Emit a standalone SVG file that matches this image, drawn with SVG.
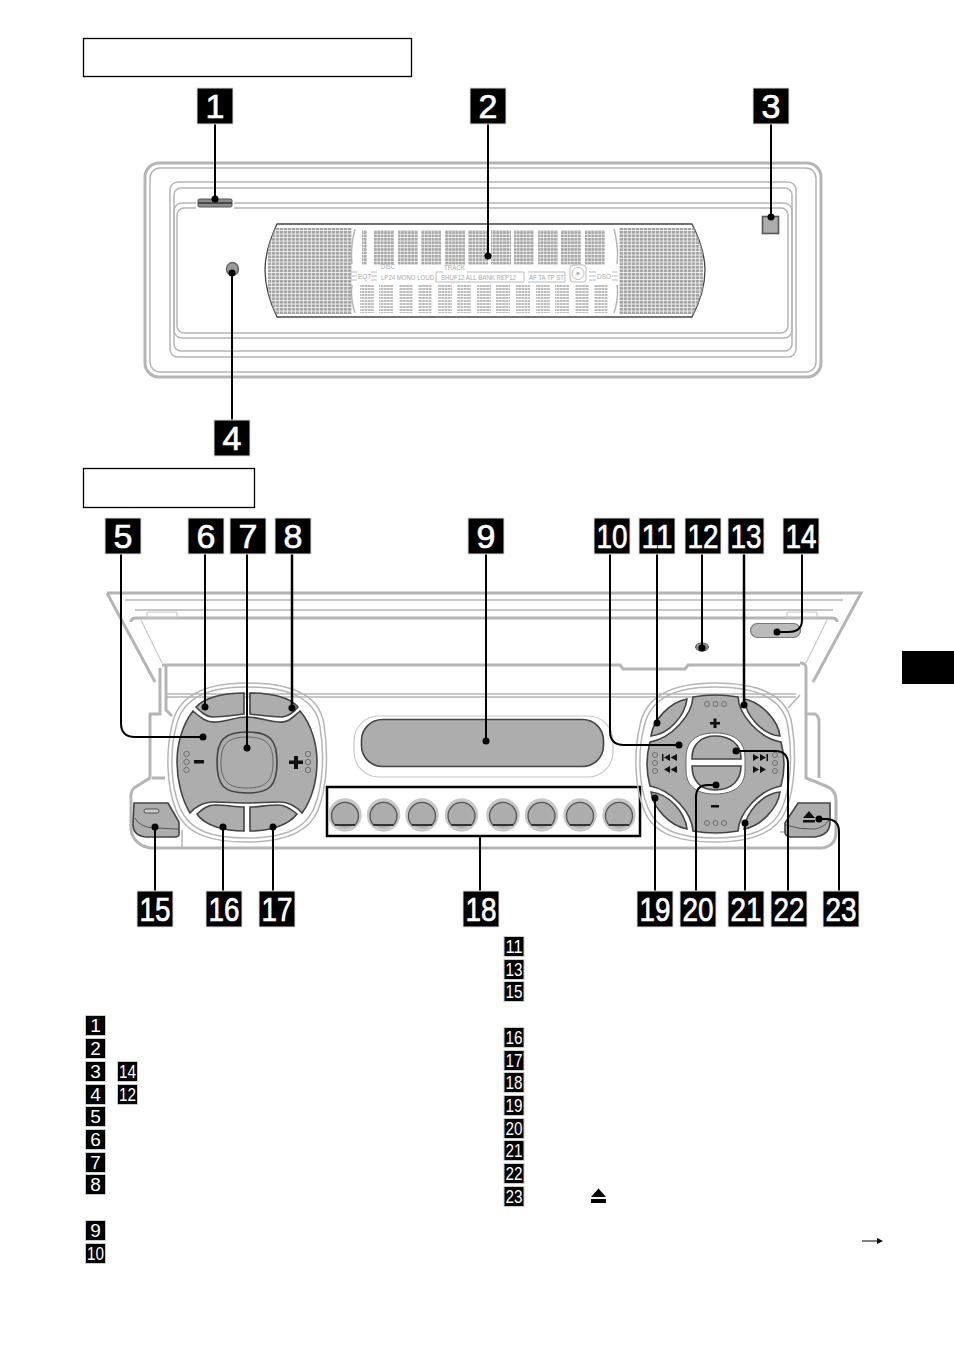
<svg xmlns="http://www.w3.org/2000/svg" width="954" height="1352" viewBox="0 0 954 1352">
<style>
text{font-family:"Liberation Sans",Arial,sans-serif}
.big rect{fill:#000;stroke:#ddd;stroke-width:1}
.big text{fill:#fff;stroke:#fff;stroke-width:.7;font-size:34px;text-anchor:middle}
.sm rect{fill:#000;stroke:#ccc;stroke-width:1}
.sm text{fill:#fff;font-size:19px;text-anchor:middle}
.hdr{fill:#fff;stroke:#000;stroke-width:1.3}
.g1{fill:none;stroke:#b5b5b5;stroke-width:1.5}
.g2{fill:none;stroke:#b5b5b5;stroke-width:3}
.g3{fill:none;stroke:#c8c8c8;stroke-width:1.2}
.btn{fill:#adadad;stroke:#444;stroke-width:1.6}
.lcd{fill:#a8a8a8;font-size:7px}
.ld{fill:none;stroke:#bbb;stroke-width:1}
.con path{fill:none;stroke:#000;stroke-width:2}
.con circle{fill:#000}
.sym{fill:#111}
.hole{fill:none;stroke:#666;stroke-width:.9}
</style>
<defs>
<pattern id="dots" width="4" height="3.500" patternUnits="userSpaceOnUse"><rect width="3.400" height="2.800" fill="#a6a6a6"/></pattern>
<pattern id="dots2" width="3.400" height="3.400" patternUnits="userSpaceOnUse"><rect width="2.900" height="2.700" fill="#a8a8a8"/></pattern>
<pattern id="dots3" width="3.200" height="3" patternUnits="userSpaceOnUse"><rect width="2.700" height="2" fill="#bdbdbd"/></pattern>
<clipPath id="lcdclip"><path d="M277 224H692Q705 250 705 270Q705 292 692 317H277Q265 292 265 270Q265 250 277 224Z"/></clipPath>
</defs>
<rect width="954" height="1352" fill="#fff"/>
<rect class="hdr" x="83.500" y="38.500" width="328" height="38"/>
<rect class="hdr" x="83.500" y="468.500" width="171" height="39"/>
<rect x="902" y="651" width="52" height="33" fill="#000"/>

<g id="faceplate">
<rect x="145" y="163" width="676" height="214" rx="14" fill="none" stroke="#b5b5b5" stroke-width="3"/>
<rect x="150" y="168" width="666" height="204" rx="10" class="g1"/>
<rect x="170" y="182" width="626" height="175" rx="8" class="g1"/>
<rect x="174" y="188" width="618" height="163" rx="7" class="g1"/>
<rect x="174" y="203" width="618" height="135" rx="8" class="g1"/>
<rect x="177" y="208" width="611" height="125" rx="7" class="g1"/>
<rect x="196" y="197" width="38" height="12" fill="#fff"/>
</g>
<g id="slot"><rect x="198" y="199" width="34" height="8" rx="1.500" fill="#8c8c8c" stroke="#555"/><path d="M198 203H232" stroke="#333" stroke-width="1.500"/></g>
<g id="square"><rect x="762.500" y="216.500" width="16" height="17" fill="#adadad" stroke="#555" stroke-width="1.600"/></g>
<g id="sensor"><ellipse cx="232.500" cy="269" rx="6" ry="6.500" fill="#999" stroke="#666" stroke-width="1.500"/></g>

<g id="display">
<path d="M277 224H692Q705 250 705 270Q705 292 692 317H277Q265 292 265 270Q265 250 277 224Z" fill="#fff" stroke="#444" stroke-width="1.300"/>
<g clip-path="url(#lcdclip)">
<rect x="268" y="228" width="84" height="86" fill="url(#dots)"/>
<rect x="619" y="228" width="84" height="86" fill="url(#dots)"/>
</g>
<path d="M355 229Q350 248 352 264M355 313Q350 298 352 285M614 229Q619 248 617 264M614 313Q619 298 617 285" class="g1"/>
<rect x="362" y="230" width="5" height="35" fill="url(#dots2)"/>
<g fill="url(#dots2)"><rect x="374" y="230" width="20" height="35"/><rect x="398" y="230" width="20" height="35"/><rect x="421" y="230" width="20" height="35"/><rect x="445" y="230" width="20" height="35"/><rect x="468" y="230" width="20" height="35"/><rect x="491" y="230" width="20" height="35"/><rect x="514" y="230" width="20" height="35"/><rect x="538" y="230" width="20" height="35"/><rect x="561" y="230" width="20" height="35"/><rect x="585" y="230" width="20" height="35"/></g>
<g fill="url(#dots3)"><rect x="360" y="285" width="14" height="28"/><rect x="379" y="285" width="14" height="28"/><rect x="399" y="285" width="14" height="28"/><rect x="418" y="285" width="14" height="28"/><rect x="438" y="285" width="14" height="28"/><rect x="457" y="285" width="14" height="28"/><rect x="477" y="285" width="14" height="28"/><rect x="496" y="285" width="14" height="28"/><rect x="516" y="285" width="14" height="28"/><rect x="536" y="285" width="14" height="28"/><rect x="555" y="285" width="14" height="28"/><rect x="575" y="285" width="14" height="28"/><rect x="594" y="285" width="14" height="28"/></g>
<text class="lcd" x="358" y="279" textLength="13" lengthAdjust="spacingAndGlyphs">EQ7</text>
<text class="lcd" x="381" y="269" textLength="14" lengthAdjust="spacingAndGlyphs">DISC</text>
<text class="lcd" x="381" y="280" textLength="53" lengthAdjust="spacingAndGlyphs">LP24 MONO LOUD</text>
<text class="lcd" x="444" y="270" textLength="21" lengthAdjust="spacingAndGlyphs">TRACK</text>
<path d="M443 272H436V282H524V272H467" class="ld"/>
<text class="lcd" x="441" y="280" textLength="75" lengthAdjust="spacingAndGlyphs">SHUF12 ALL BANK REP12</text>
<path d="M528 272H565V282H528" class="ld"/>
<text class="lcd" x="529" y="280" textLength="35" lengthAdjust="spacingAndGlyphs">AF TA TP ST</text>
<rect x="570" y="265" width="16" height="17" rx="3" class="ld"/><circle cx="578" cy="273.500" r="6" class="ld"/><circle cx="578" cy="273.500" r="1.800" fill="#bbb"/>
<text class="lcd" x="597" y="279" textLength="14" lengthAdjust="spacingAndGlyphs">DSO</text>
<path d="M350 272H357M350 276H357M350 280H357M371 272H377M371 276H377M371 280H377M589 272H596M589 276H596M589 280H596M612 272H618M612 276H618M612 280H618" class="ld"/>
</g>

<g id="body">
<path d="M107 593H861L813 682M107 593L155 682" class="g2"/>
<path d="M125 600H843M135 610H833" class="g1" stroke-width="2"/>
<path d="M131 622Q131 618 136 618H832Q837 618 837 622" class="g2"/>
<path d="M140 618L162 663M828 618L806 663" class="g3"/>
<rect x="147" y="612" width="30" height="6" rx="1" class="g3" fill="#fff"/>
<rect x="787" y="612" width="30" height="6" rx="1" class="g3" fill="#fff"/>
<path d="M162 665H620L623 669H685L688 665H800" class="g2"/>
<path d="M165 694H796M165 697H796" class="g1"/>
<path d="M160 668V714H150V778L134 788Q130 792 131 800V830Q132 840 143 846L150 848H822Q836 846 836 832V800Q836 790 826 786L806 778V668Q806 663 800 663M166 666V710L172 716M165 778H152" class="g2"/>
<path d="M806 714H815Q819 716 819 722V778" class="g2" stroke-width="2"/>
<path d="M800 695L788 708" class="g1"/>
<path d="M182 830V848M780 832H795" class="g1"/>
</g>

<g id="left-control">
<path d="M247 683C290 683 320 695 324 725C328 750 328 785 318 810C308 835 280 842 247 842C212 842 186 835 176 810C166 785 166 750 172 725C178 695 205 683 247 683Z" class="g1" fill="#fff"/>
<path d="M247 687C288 687 316 698 320 727C324 750 324 785 314 808C304 832 278 838 247 838C214 838 190 832 180 808C170 785 170 750 176 727C182 698 207 687 247 687Z" class="g1" fill="#fff"/>
<path class="btn" d="M193 711C201 718 207 723 216 722C228 721 236 717 247 717C258 717 267 721 279 722C288 723 292 718 300 711C312 725 317 745 317 762C317 780 312 800 302 813C295 805 288 802 280 802C268 802 258 803 247 803C236 803 225 802 213 802C204 802 197 805 190 813C182 800 177 780 177 762C177 745 182 725 193 711Z"/>
<path class="btn" d="M196 707C205 697 225 693 244 693V714C230 716 222 717 212 717C205 716 201 712 196 707Z"/>
<path class="btn" d="M298 707C290 697 270 693 250 693V714C264 716 272 717 282 717C290 716 294 712 298 707Z"/>
<path class="btn" d="M197 814C204 808 208 805 215 805C225 805 235 807 244 807V831C225 831 205 826 197 814Z"/>
<path class="btn" d="M297 814C290 808 284 805 278 805C268 805 258 807 250 807V831C268 831 288 826 297 814Z"/>
<path class="btn" d="M247 732C270 732 277 740 277 762C277 786 270 793 247 793C224 793 217 786 217 762C217 740 224 732 247 732Z"/>
<path d="M247 737C266 737 273 744 273 762C273 781 266 788 247 788C228 788 221 781 221 762C221 744 228 737 247 737Z" fill="none" stroke="#666" stroke-width="1"/>
<g class="hole"><circle cx="186.500" cy="754" r="2.700"/><circle cx="186.500" cy="762" r="2.700"/><circle cx="186.500" cy="770" r="2.700"/><circle cx="308" cy="754" r="2.700"/><circle cx="308" cy="762" r="2.700"/><circle cx="308" cy="770" r="2.700"/></g>
<rect class="sym" x="194" y="760" width="10" height="3.500"/>
<path class="sym" d="M294 756h4v4.500h5v3.500h-5v5h-4v-5h-5v-3.500h5z"/>
</g>

<g id="display-window">
<rect x="354" y="716" width="259" height="61" rx="25" class="g3"/>
<rect x="361.500" y="719.500" width="242" height="47" rx="21" class="btn"/>
</g>

<g id="presets">
<rect x="327" y="787" width="313" height="49" fill="none" stroke="#000" stroke-width="2.500"/>
<g fill="#adadad" stroke="#c8c8c8" stroke-width="3.500">
<circle cx="345" cy="815" r="15"/><circle cx="383.500" cy="815" r="15"/><circle cx="422" cy="815" r="15"/><circle cx="461.500" cy="815" r="15"/><circle cx="503" cy="815" r="15"/><circle cx="541.500" cy="815" r="15"/><circle cx="580" cy="815" r="15"/><circle cx="619" cy="815" r="15"/>
</g>
<g fill="#adadad" stroke="#555" stroke-width="1.300">
<path d="M335 825A13.500 13.500 0 1 1 355 825Z"/><path d="M373.500 825A13.500 13.500 0 1 1 393.500 825Z"/><path d="M412 825A13.500 13.500 0 1 1 432 825Z"/><path d="M451.500 825A13.500 13.500 0 1 1 471.500 825Z"/><path d="M493 825A13.500 13.500 0 1 1 513 825Z"/><path d="M531.500 825A13.500 13.500 0 1 1 551.500 825Z"/><path d="M570 825A13.500 13.500 0 1 1 590 825Z"/><path d="M609 825A13.500 13.500 0 1 1 629 825Z"/>
</g>
<path d="M335 825H355M373.500 825H393.500M412 825H432M451.500 825H471.500M493 825H513M531.500 825H551.500M570 825H590M609 825H629" stroke="#333" stroke-width="2"/>
</g>

<g id="right-control">
<path d="M715 683C758 683 788 695 792 725C796 750 796 785 786 810C776 835 748 842 715 842C680 842 654 835 644 810C634 785 634 750 640 725C646 695 673 683 715 683Z" class="g1" fill="#fff"/>
<path d="M715 687C756 687 784 698 788 727C792 750 792 785 782 808C772 832 746 838 715 838C682 838 658 832 648 808C638 785 638 750 644 727C650 698 675 687 715 687Z" class="g1" fill="#fff"/>
<path class="btn" d="M693 697Q715 693 738 697C739 715 759 738 781 742Q787 764 781 786C759 790 739 813 738 831Q715 835 693 831C692 813 672 790 650 786Q644 764 650 742C672 738 692 715 693 697Z"/>
<path class="btn" d="M651 736C653 720 670 702 687 699C685 715 670 734 651 736Z"/>
<path class="btn" d="M780 736C778 720 761 702 744 699C746 715 761 734 780 736Z"/>
<path class="btn" d="M651 792C653 808 670 826 687 829C685 813 670 794 651 792Z"/>
<path class="btn" d="M780 792C778 808 761 826 744 829C746 813 761 794 780 792Z"/>
<path d="M715 733C735 733 745 742 745 758V770C745 785 735 794 715 794C695 794 686 785 686 770V758C686 742 695 733 715 733Z" fill="#fff" stroke="#666" stroke-width="1"/>
<path class="btn" d="M692 758C692 744 702 736 715 736C730 736 741 744 741 758V759H692Z"/>
<path class="btn" d="M692 766H741C741 780 732 790 715 790C700 790 692 780 692 766Z"/>
<g class="hole"><circle cx="707" cy="704" r="2.500"/><circle cx="715.500" cy="704" r="2.500"/><circle cx="724" cy="704" r="2.500"/><circle cx="707" cy="823" r="2.500"/><circle cx="715.500" cy="823" r="2.500"/><circle cx="724" cy="823" r="2.500"/><circle cx="655" cy="755" r="2.500"/><circle cx="655" cy="763" r="2.500"/><circle cx="655" cy="771" r="2.500"/><circle cx="775" cy="755" r="2.500"/><circle cx="775" cy="763" r="2.500"/><circle cx="775" cy="771" r="2.500"/></g>
<path class="sym" d="M713.500 718.500h3v3.500h3.500v2.500h-3.500v3.500h-3v-3.500h-3.500v-2.500h3.500zM711 805h8v2.500h-8z"/>
<path class="sym" d="M662 754h1.500v7h-1.500zM664 757.500L670 754V761ZM670.500 757.500L677 754V761ZM664 769.500L670 766V773ZM670.500 769.500L677 766V773ZM753 754L759 757.500L753 761ZM760 754L766 757.500L760 761ZM766.500 754H768V761H766.500ZM753 766L759 769.500L753 773ZM760 766L766 769.500L760 773Z"/>
</g>

<g id="rear-button"><rect x="750.500" y="623.500" width="50" height="14" rx="7" fill="#bbb" stroke="#777" stroke-width="1.200"/></g>
<g id="reset"><ellipse cx="702" cy="647" rx="6.500" ry="4" fill="#888" stroke="#555"/></g>

<g id="off-button"><path class="btn" stroke-width="1.500" d="M134 803H168L179 822V834Q179 837 175 837H146Q133 836 133 824Z" fill="#9a9a9a"/><path d="M135 818Q140 828 156 828L178 829" fill="none" stroke="#555"/><rect x="144" y="809" width="15" height="4" rx="2" fill="#ccc" stroke="#444" stroke-width=".9"/></g>
<g id="eject-button"><path class="btn" stroke-width="1.500" d="M798 803H830V822Q830 835 815 837H790Q785 836 785 832V823Z" fill="#9a9a9a"/><path d="M786 825Q800 830 815 829Q826 827 830 818" fill="none" stroke="#555"/><path class="sym" d="M809 811L815 818H803ZM803 820H815V822.500H803Z"/></g>

<g id="connectors" class="con">
<path d="M215 124V199"/><path d="M488 124V256"/><path d="M771 124V217"/><path d="M232 420V273"/>
<path d="M121 554V723Q121 737 135 737H203"/><path d="M205 554V707"/><path d="M247 554V748"/><path d="M292 554V708" style="stroke-width:2.500px"/><path d="M486 554V741"/>
<path d="M610 554V731Q610 745 624 745H679"/><path d="M657 554V723"/><path d="M702 554V648"/><path d="M744 554V705" style="stroke-width:2.500px"/><path d="M802 554V620Q802 632 788 632H777"/>
<path d="M155 891V827"/><path d="M223 891V827"/><path d="M273 891V827"/><path d="M480 891V836"/><path d="M655 891V798"/>
<path d="M696 891V797Q696 785 708 785H716"/><path d="M745 891V823"/><path d="M788 891V764Q788 751 775 751H736"/><path d="M839 891V832Q839 819 826 819H819"/>
<circle cx="215" cy="199" r="3.500"/><circle cx="488" cy="256" r="3.500"/><circle cx="771" cy="217" r="3.500"/><circle cx="232" cy="273" r="3.500"/><circle cx="203" cy="737" r="3.500"/><circle cx="205" cy="707" r="3.500"/><circle cx="247" cy="748" r="3.500"/><circle cx="292" cy="708" r="3.500"/><circle cx="486" cy="741" r="3.500"/><circle cx="679" cy="745" r="3.500"/><circle cx="657" cy="723" r="3.500"/><circle cx="702" cy="648" r="3.500"/><circle cx="744" cy="705" r="3.500"/><circle cx="777" cy="632" r="3.500"/><circle cx="155" cy="827" r="3.500"/><circle cx="223" cy="827" r="3.500"/><circle cx="273" cy="827" r="3.500"/><circle cx="655" cy="798" r="3.500"/><circle cx="716" cy="785" r="3.500"/><circle cx="745" cy="823" r="3.500"/><circle cx="736" cy="751" r="3.500"/><circle cx="819" cy="819" r="3.500"/>
</g>

<g id="callouts" class="big">
<g id="c1"><rect x="197" y="88" width="36" height="36"/><text x="215" y="118">1</text></g>
<g id="c2"><rect x="470" y="88" width="36" height="36"/><text x="488" y="118">2</text></g>
<g id="c3"><rect x="753" y="88" width="36" height="36"/><text x="771" y="118">3</text></g>
<g id="c4"><rect x="214" y="420" width="36" height="36"/><text x="232" y="450">4</text></g>
<g id="c5"><rect x="105" y="518" width="36" height="36"/><text x="123" y="548">5</text></g>
<g id="c6"><rect x="188" y="518" width="36" height="36"/><text x="206" y="548">6</text></g>
<g id="c7"><rect x="230" y="518" width="36" height="36"/><text x="248" y="548">7</text></g>
<g id="c8"><rect x="275" y="518" width="36" height="36"/><text x="293" y="548">8</text></g>
<g id="c9"><rect x="468" y="518" width="36" height="36"/><text x="486" y="548">9</text></g>
<g id="c10"><rect x="594" y="518" width="36" height="36"/><text x="612" y="548" textLength="31" lengthAdjust="spacingAndGlyphs">10</text></g>
<g id="c11"><rect x="639" y="518" width="36" height="36"/><text x="657" y="548" textLength="31" lengthAdjust="spacingAndGlyphs">11</text></g>
<g id="c12"><rect x="685" y="518" width="36" height="36"/><text x="703" y="548" textLength="31" lengthAdjust="spacingAndGlyphs">12</text></g>
<g id="c13"><rect x="728" y="518" width="36" height="36"/><text x="746" y="548" textLength="31" lengthAdjust="spacingAndGlyphs">13</text></g>
<g id="c14"><rect x="783" y="518" width="36" height="36"/><text x="801" y="548" textLength="31" lengthAdjust="spacingAndGlyphs">14</text></g>
<g id="c15"><rect x="137" y="891" width="36" height="36"/><text x="155" y="921" textLength="31" lengthAdjust="spacingAndGlyphs">15</text></g>
<g id="c16"><rect x="206" y="891" width="36" height="36"/><text x="224" y="921" textLength="31" lengthAdjust="spacingAndGlyphs">16</text></g>
<g id="c17"><rect x="259" y="891" width="36" height="36"/><text x="277" y="921" textLength="31" lengthAdjust="spacingAndGlyphs">17</text></g>
<g id="c18"><rect x="463" y="891" width="36" height="36"/><text x="481" y="921" textLength="31" lengthAdjust="spacingAndGlyphs">18</text></g>
<g id="c19"><rect x="637" y="891" width="36" height="36"/><text x="655" y="921" textLength="31" lengthAdjust="spacingAndGlyphs">19</text></g>
<g id="c20"><rect x="680" y="891" width="36" height="36"/><text x="698" y="921" textLength="31" lengthAdjust="spacingAndGlyphs">20</text></g>
<g id="c21"><rect x="728" y="891" width="36" height="36"/><text x="746" y="921" textLength="31" lengthAdjust="spacingAndGlyphs">21</text></g>
<g id="c22"><rect x="771" y="891" width="36" height="36"/><text x="789" y="921" textLength="31" lengthAdjust="spacingAndGlyphs">22</text></g>
<g id="c23"><rect x="823" y="891" width="36" height="36"/><text x="841" y="921" textLength="31" lengthAdjust="spacingAndGlyphs">23</text></g>
</g>

<g id="legend" class="sm">
<g><rect x="85.500" y="1015.500" width="20" height="20"/><text x="95.500" y="1032">1</text></g>
<g><rect x="85.500" y="1038.500" width="20" height="20"/><text x="95.500" y="1055">2</text></g>
<g><rect x="85.500" y="1061.500" width="20" height="20"/><text x="95.500" y="1078">3</text></g>
<g><rect x="117.500" y="1061.500" width="20" height="20"/><text x="127.500" y="1078" textLength="17" lengthAdjust="spacingAndGlyphs">14</text></g>
<g><rect x="85.500" y="1084.500" width="20" height="20"/><text x="95.500" y="1101">4</text></g>
<g><rect x="117.500" y="1084.500" width="20" height="20"/><text x="127.500" y="1101" textLength="17" lengthAdjust="spacingAndGlyphs">12</text></g>
<g><rect x="85.500" y="1106.500" width="20" height="20"/><text x="95.500" y="1123">5</text></g>
<g><rect x="85.500" y="1129.500" width="20" height="20"/><text x="95.500" y="1146">6</text></g>
<g><rect x="85.500" y="1152.500" width="20" height="20"/><text x="95.500" y="1169">7</text></g>
<g><rect x="85.500" y="1174.500" width="20" height="20"/><text x="95.500" y="1191">8</text></g>
<g><rect x="85.500" y="1220.500" width="20" height="20"/><text x="95.500" y="1237">9</text></g>
<g><rect x="85.500" y="1243.500" width="20" height="20"/><text x="95.500" y="1260" textLength="17" lengthAdjust="spacingAndGlyphs">10</text></g>
<g><rect x="504" y="936.500" width="20" height="20"/><text x="514" y="953" textLength="17" lengthAdjust="spacingAndGlyphs">11</text></g>
<g><rect x="504" y="959.500" width="20" height="20"/><text x="514" y="976" textLength="17" lengthAdjust="spacingAndGlyphs">13</text></g>
<g><rect x="504" y="981.500" width="20" height="20"/><text x="514" y="998" textLength="17" lengthAdjust="spacingAndGlyphs">15</text></g>
<g><rect x="504" y="1027.500" width="20" height="20"/><text x="514" y="1044" textLength="17" lengthAdjust="spacingAndGlyphs">16</text></g>
<g><rect x="504" y="1050.500" width="20" height="20"/><text x="514" y="1067" textLength="17" lengthAdjust="spacingAndGlyphs">17</text></g>
<g><rect x="504" y="1072.500" width="20" height="20"/><text x="514" y="1089" textLength="17" lengthAdjust="spacingAndGlyphs">18</text></g>
<g><rect x="504" y="1095.500" width="20" height="20"/><text x="514" y="1112" textLength="17" lengthAdjust="spacingAndGlyphs">19</text></g>
<g><rect x="504" y="1118.500" width="20" height="20"/><text x="514" y="1135" textLength="17" lengthAdjust="spacingAndGlyphs">20</text></g>
<g><rect x="504" y="1140.500" width="20" height="20"/><text x="514" y="1157" textLength="17" lengthAdjust="spacingAndGlyphs">21</text></g>
<g><rect x="504" y="1163.500" width="20" height="20"/><text x="514" y="1180" textLength="17" lengthAdjust="spacingAndGlyphs">22</text></g>
<g><rect x="504" y="1186.500" width="20" height="20"/><text x="514" y="1203" textLength="17" lengthAdjust="spacingAndGlyphs">23</text></g>
</g>
<g id="eject-symbol"><path d="M598.500 1188.500L606 1197H591ZM591 1199H606V1203H591Z" fill="#000"/></g>
<g id="next-arrow"><path d="M862 1241H878" stroke="#000" stroke-width="1"/><path d="M877 1238L883 1241L877 1244Z" fill="#000"/></g>
</svg>
